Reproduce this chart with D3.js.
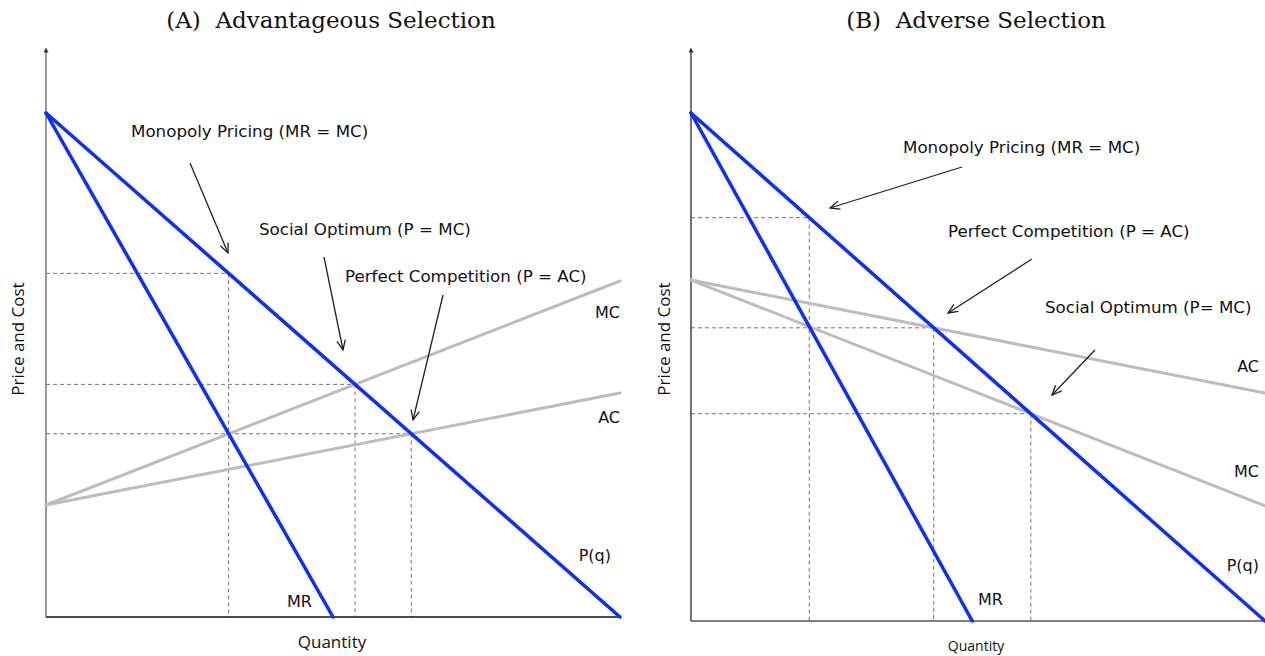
<!DOCTYPE html>
<html>
<head>
<meta charset="utf-8">
<script src="https://cdn.jsdelivr.net/npm/d3@7"></script>
<style>
  body { margin: 0; background: #fff; }
  svg { display: block; }
</style>
</head>
<body>
<div id="chart"></div>
<script>
// =======================
// Selection markets: demand, MR, MC and AC
// =======================

// Data (quantity 0..100, price 0..90)
const titles = ["(A)  Advantageous Selection", "(B)  Adverse Selection"];
const qEnds = [0, 100];
const demandP = [90, 0];      // P(q) at q = 0 and q = 100
const mrP = [90, 0];          // MR at q = 0 and at its intercept
const mrQA = [0, 50];
const mrQB = [0, 49];
const mcA = [20, 60];         // panel A: MC at q = 0 and q = 100
const acA = [20, 40];
const mcB = [60.4, 20.4];     // panel B
const acB = [60.4, 40.4];
const curveLabels = ["P(q)", "MR", "MC", "AC"];
const pointLabelsA = ["Monopoly Pricing (MR = MC)", "Social Optimum (P = MC)", "Perfect Competition (P = AC)"];
const pointLabelsB = ["Monopoly Pricing (MR = MC)", "Perfect Competition (P = AC)", "Social Optimum (P= MC)"];

const width = 1265, height = 656;
const blue = "#0a2fff", grey = "#bdbdbd";
const labelFont = "DejaVu Sans";

const svg = d3.select("#chart").append("svg")
  .attr("width", width).attr("height", height);

const defs = svg.append("defs");
defs.append("marker")
  .attr("id", "arrow")
  .attr("viewBox", "0 0 10 10")
  .attr("refX", 9).attr("refY", 5)
  .attr("markerWidth", 12).attr("markerHeight", 12)
  .attr("markerUnits", "userSpaceOnUse")
  .attr("orient", "auto")
  .append("path")
    .attr("d", "M1,1.5 L9,5 L1,8.5")
    .attr("fill", "none")
    .attr("stroke", "#222")
    .attr("stroke-width", 1.1);

defs.append("marker")
  .attr("id", "axisArrow")
  .attr("viewBox", "0 0 10 10")
  .attr("refX", 5).attr("refY", 5)
  .attr("markerWidth", 5).attr("markerHeight", 5)
  .attr("markerUnits", "userSpaceOnUse")
  .attr("orient", "auto")
  .append("path")
    .attr("d", "M0,0 L10,5 L0,10 Z")
    .attr("fill", "#333");

// straight line through two points, p = a + b q
const lineOf = (q, p) => {
  const b = (p[1] - p[0]) / (q[1] - q[0]);
  return { a: p[0] - b * q[0], b };
};
const cross = (l1, l2) => {
  const q = (l2.a - l1.a) / (l1.b - l2.b);
  return { q, p: l1.a + l1.b * q };
};

function drawPanel(cfg) {
  const g = svg.append("g");
  const x = d3.scaleLinear().domain(qEnds).range([cfg.left, cfg.right]);
  const y = d3.scaleLinear().domain([0, demandP[0]]).range([cfg.bottom, cfg.top]);

  const D = lineOf(qEnds, demandP);
  const MR = lineOf(cfg.mrQ, mrP);
  const MC = lineOf(qEnds, cfg.mc);
  const AC = lineOf(qEnds, cfg.ac);

  // equilibria
  const mono = cross(MR, MC);
  const social = cross(D, MC);
  const comp = cross(D, AC);
  const points = [
    { q: mono.q, p: D.a + D.b * mono.q },
    { q: social.q, p: social.p },
    { q: comp.q, p: comp.p }
  ];

  // Title
  g.append("text")
    .attr("x", cfg.titleX).attr("y", 28)
    .attr("text-anchor", "middle")
    .style("font-family", "DejaVu Serif")
    .style("font-size", "23px")
    .style("white-space", "pre")
    .attr("fill", "#111")
    .text(cfg.title);

  // dashed guides
  const dash = g.append("g")
    .attr("stroke", "#777").attr("stroke-width", 1)
    .attr("stroke-dasharray", "4,3").attr("fill", "none");
  points.forEach(d => {
    dash.append("line")
      .attr("x1", x(0)).attr("x2", x(d.q))
      .attr("y1", y(d.p)).attr("y2", y(d.p));
    dash.append("line")
      .attr("x1", x(d.q)).attr("x2", x(d.q))
      .attr("y1", y(d.p)).attr("y2", y(0));
  });

  // axes
  g.append("line")
    .attr("x1", x(0)).attr("x2", x(0))
    .attr("y1", y(0)).attr("y2", cfg.axisTop)
    .attr("stroke", cfg.yAxisColor).attr("stroke-width", 1.5)
    .attr("marker-end", "url(#axisArrow)");
  g.append("line")
    .attr("x1", x(0)).attr("x2", x(100))
    .attr("y1", y(0)).attr("y2", y(0))
    .attr("stroke", cfg.xAxisColor).attr("stroke-width", 1.5);

  // curves
  const path = d3.line().x(d => x(d[0])).y(d => y(d[1]));
  const curves = [
    { pts: [[qEnds[0], cfg.mc[0]], [qEnds[1], cfg.mc[1]]], color: grey },
    { pts: [[qEnds[0], cfg.ac[0]], [qEnds[1], cfg.ac[1]]], color: grey },
    { pts: [[qEnds[0], demandP[0]], [qEnds[1], demandP[1]]], color: blue },
    { pts: [[cfg.mrQ[0], mrP[0]], [cfg.mrQ[1], mrP[1]]], color: blue }
  ];
  g.selectAll("path.curve")
    .data(curves)
    .enter()
    .append("path")
      .attr("class", "curve")
      .attr("d", d => path(d.pts))
      .attr("fill", "none")
      .attr("stroke", d => d.color)
      .attr("stroke-width", d => d.color === blue ? 3.5 : 3)
      .attr("stroke-linecap", "round");

  // curve labels
  g.selectAll("text.curveLabel")
    .data(cfg.curveLabelPos)
    .enter()
    .append("text")
      .attr("class", "curveLabel")
      .attr("x", d => d[1]).attr("y", d => d[2])
      .attr("text-anchor", d => d[3] || "end")
      .style("font-family", labelFont)
      .style("font-size", "16px")
      .attr("fill", "#111")
      .text(d => d[0]);

  // annotations with arrows
  cfg.notes.forEach(n => {
    g.append("text")
      .attr("x", n.tx).attr("y", n.ty)
      .style("font-family", labelFont)
      .style("font-size", "16.7px")
      .attr("fill", "#111")
      .text(n.text);
    g.append("line")
      .attr("x1", n.from[0]).attr("y1", n.from[1])
      .attr("x2", n.to[0]).attr("y2", n.to[1])
      .attr("stroke", "#222").attr("stroke-width", 1.3)
      .attr("marker-end", "url(#arrow)");
  });

  // axis titles
  g.append("text")
    .attr("x", cfg.qLabelX).attr("y", cfg.qLabelY)
    .attr("text-anchor", "middle")
    .style("font-family", "Open Sans")
    .style("font-size", cfg.qLabelSize)
    .attr("fill", "#111")
    .text("Quantity");
  g.append("text")
    .attr("transform", `translate(${cfg.pLabelX},339) rotate(-90)`)
    .attr("text-anchor", "middle")
    .style("font-family", "Open Sans")
    .style("font-size", "17px")
    .attr("fill", "#111")
    .text("Price and Cost");
}

drawPanel({
  title: titles[0], titleX: 331,
  left: 46, right: 620, bottom: 617, top: 113, axisTop: 50,
  mrQ: mrQA, mc: mcA, ac: acA,
  yAxisColor: "#777", xAxisColor: "#111",
  qLabelX: 332, qLabelY: 648, qLabelSize: "17px", pLabelX: 24,
  curveLabelPos: [[curveLabels[0], 611, 561], [curveLabels[1], 287, 607, "start"], [curveLabels[2], 620, 318], [curveLabels[3], 620, 423]],
  notes: [
    { text: pointLabelsA[0], tx: 131, ty: 137, from: [190, 163], to: [228, 253] },
    { text: pointLabelsA[1], tx: 259, ty: 235, from: [324, 257], to: [343, 350] },
    { text: pointLabelsA[2], tx: 345, ty: 282, from: [443, 295], to: [413, 420] }
  ]
});

drawPanel({
  title: titles[1], titleX: 976,
  left: 691, right: 1265, bottom: 621, top: 113, axisTop: 50,
  mrQ: mrQB, mc: mcB, ac: acB,
  yAxisColor: "#444", xAxisColor: "#555",
  qLabelX: 976, qLabelY: 651, qLabelSize: "14px", pLabelX: 670,
  curveLabelPos: [[curveLabels[0], 1259, 571], [curveLabels[1], 978, 605, "start"], [curveLabels[2], 1259, 477], [curveLabels[3], 1259, 372]],
  notes: [
    { text: pointLabelsB[0], tx: 903, ty: 153, from: [962, 167], to: [830, 208] },
    { text: pointLabelsB[1], tx: 948, ty: 237, from: [1032, 259], to: [948, 313] },
    { text: pointLabelsB[2], tx: 1045, ty: 313, from: [1095, 350], to: [1052, 395] }
  ]
});
</script>
</body>
</html>
